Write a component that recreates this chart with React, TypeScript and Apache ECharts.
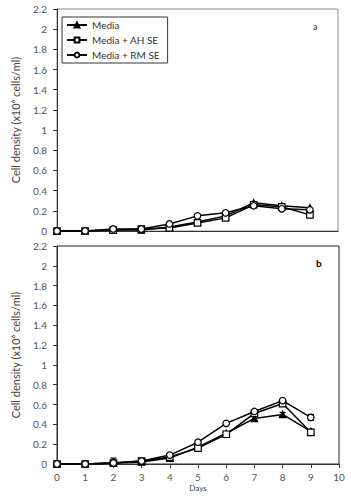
import React, { useEffect, useRef } from "react";
import * as echarts from "echarts";

const days = [0, 1, 2, 3, 4, 5, 6, 7, 8, 9];
const seriesNames = ["Media", "Media + AH SE", "Media + RM SE"];

// Panel a
const aMedia = [0, 0, 0.01, 0.01, 0.04, 0.09, 0.15, 0.28, 0.25, 0.23];
const aAH = [0, 0, 0.01, 0.02, 0.03, 0.08, 0.13, 0.26, 0.24, 0.16];
const aRM = [0, 0, 0.02, 0.02, 0.07, 0.15, 0.18, 0.25, 0.22, 0.21];

// Panel b
const bMedia = [0, 0, 0.01, 0.02, 0.06, 0.17, 0.31, 0.46, 0.5, 0.33];
const bAH = [0, 0, 0.01, 0.03, 0.07, 0.16, 0.3, 0.51, 0.61, 0.32];
const bRM = [0, 0, 0.01, 0.03, 0.09, 0.22, 0.41, 0.53, 0.64, 0.47];
const bMediaErr = [0, 0, 0.05, 0, 0, 0, 0, 0.02, 0.02, 0];
const bRMErr = [0, 0, 0, 0, 0, 0, 0, 0, 0, 0.03];

const yTitle = "Cell density (x10\u2076 cells/ml)";
const FONT = "Lato, 'Noto Sans', sans-serif";

export default function App() {
  const ref = useRef<HTMLDivElement>(null);
  useEffect(() => {
    if (!ref.current) return;
    const chart = echarts.init(ref.current, undefined, { renderer: "svg" });

    const styles = [
      { symbol: "triangle", color: "#000" },
      { symbol: "rect", color: "#fff" },
      { symbol: "circle", color: "#fff" },
    ];
    const mk = (name: string, idx: number, data: number[], axis: number) => ({
      type: "line",
      name,
      xAxisIndex: axis,
      yAxisIndex: axis,
      data: days.map((d, i) => [d, data[i]]),
      symbol: styles[idx].symbol,
      symbolSize: 6.5,
      showSymbol: true,
      lineStyle: { color: "#000", width: 1.5 },
      itemStyle: { color: styles[idx].color, borderColor: "#000", borderWidth: 1.2 },
      z: 3 + idx,
    });

    const errData = [
      ...days.map((d, i) => [d, bMedia[i], bMediaErr[i]]),
      ...days.map((d, i) => [d, bRM[i], bRMErr[i]]),
    ].filter((r) => r[2] > 0);

    const yAxisCommon = {
      type: "value",
      min: 0,
      max: 2.2,
      interval: 0.2,
      name: yTitle,
      nameLocation: "middle",
      nameGap: 36,
      nameTextStyle: { fontSize: 11, color: "#444", fontFamily: FONT },
      axisLine: { show: true, lineStyle: { color: "#333", width: 1 } },
      axisTick: { show: true, inside: false, length: 4, lineStyle: { color: "#333" } },
      axisLabel: { fontSize: 10, color: "#555", margin: 10, fontFamily: FONT },
      splitLine: { show: false },
    };

    chart.setOption({
      animation: false,
      textStyle: { fontFamily: FONT },
      grid: [
        { left: 57, top: 9, right: 13, bottom: 266, show: true, borderColor: "#8a8a8a", borderWidth: 1 },
        { left: 57, top: 246, right: 12, bottom: 33, show: true, borderColor: "#222", borderWidth: 1 },
      ],
      xAxis: [
        {
          type: "value",
          gridIndex: 0,
          min: 0,
          max: 10,
          interval: 1,
          axisLine: { show: true, lineStyle: { color: "#333" } },
          axisTick: { show: false },
          axisLabel: { show: false },
          splitLine: { show: false },
        },
        {
          type: "value",
          gridIndex: 1,
          min: 0,
          max: 10,
          interval: 1,
          name: "Days",
          nameLocation: "middle",
          nameGap: 20,
          nameTextStyle: { fontSize: 8, color: "#444", fontFamily: FONT },
          axisLine: { show: true, lineStyle: { color: "#333" } },
          axisTick: { show: true, length: 4, lineStyle: { color: "#333" } },
          axisLabel: { fontSize: 10, color: "#555", margin: 8, fontFamily: FONT },
          splitLine: { show: false },
        },
      ],
      yAxis: [
        { ...yAxisCommon, gridIndex: 0 },
        { ...yAxisCommon, gridIndex: 1 },
      ],
      legend: {
        data: seriesNames,
        orient: "vertical",
        left: 62,
        top: 17,
        borderColor: "#333",
        borderWidth: 1,
        padding: [2, 8, 2, 4],
        itemGap: 3,
        itemWidth: 20,
        itemHeight: 6,
        textStyle: { fontSize: 10, color: "#333", fontWeight: "normal", lineHeight: 12, fontFamily: FONT },
        backgroundColor: "#fff",
      },
      graphic: [
        { type: "text", left: 313, top: 22, style: { text: "a", fontSize: 9, fill: "#333", fontFamily: FONT } },
        { type: "text", left: 316, top: 258, style: { text: "b", fontSize: 10, fill: "#000", fontFamily: FONT, fontWeight: "bold" } },
      ],
      series: [
        mk(seriesNames[0], 0, aMedia, 0),
        mk(seriesNames[1], 1, aAH, 0),
        mk(seriesNames[2], 2, aRM, 0),
        mk(seriesNames[0], 0, bMedia, 1),
        mk(seriesNames[1], 1, bAH, 1),
        mk(seriesNames[2], 2, bRM, 1),
        {
          type: "custom",
          name: "err",
          xAxisIndex: 1,
          yAxisIndex: 1,
          z: 2,
          data: errData,
          renderItem: (params: any, api: any) => {
            const x = api.value(0);
            const y = api.value(1);
            const e = api.value(2);
            const top = api.coord([x, y + e]);
            const bot = api.coord([x, Math.max(0, y - e)]);
            const st = { stroke: "#000", lineWidth: 1.2 };
            return {
              type: "group",
              children: [
                { type: "line", shape: { x1: top[0], y1: top[1], x2: bot[0], y2: bot[1] }, style: st },
                { type: "line", shape: { x1: top[0] - 3, y1: top[1], x2: top[0] + 3, y2: top[1] }, style: st },
                { type: "line", shape: { x1: bot[0] - 3, y1: bot[1], x2: bot[0] + 3, y2: bot[1] }, style: st },
              ],
            };
          },
        },
      ],
    });
    return () => chart.dispose();
  }, []);
  return <div ref={ref} style={{ position: "absolute", left: 0, top: 0, width: 351, height: 497, background: "#fff" }} />;
}
